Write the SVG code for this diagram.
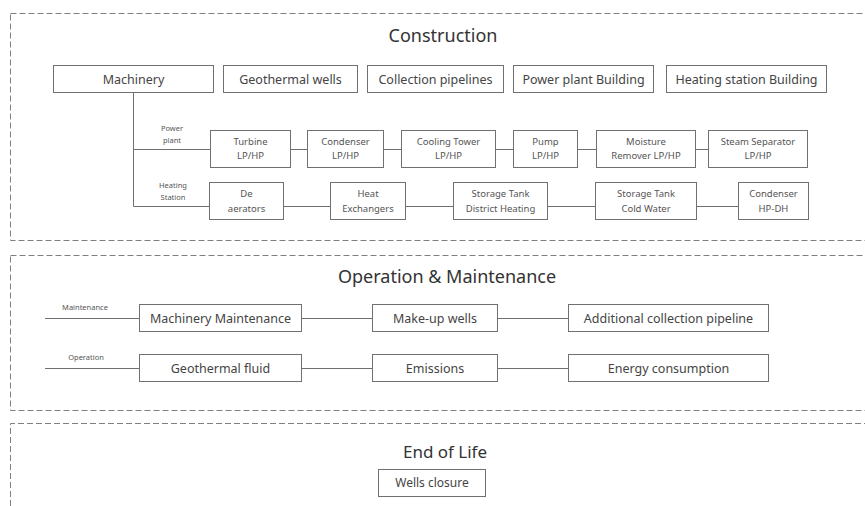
<svg xmlns="http://www.w3.org/2000/svg" width="865" height="506" viewBox="0 0 865 506">
<style>
.sec{fill:none;stroke:#808080;stroke-width:1;stroke-dasharray:6 3}
.box{fill:#fff;stroke:#707070;stroke-width:1}
.ln{fill:none;stroke:#707070;stroke-width:1}
.title{font-family:"Noto Sans","Open Sans",sans-serif;font-size:18px;fill:#333;text-anchor:middle}
.t13{font-family:"Noto Sans","Open Sans",sans-serif;font-size:12.5px;fill:#444;text-anchor:middle}
.t10{font-family:"Noto Sans","Open Sans",sans-serif;font-size:9.5px;fill:#555;text-anchor:middle}
.t7{font-family:"Noto Sans","Open Sans",sans-serif;font-size:7.5px;fill:#555;text-anchor:middle}
</style>
<rect width="865" height="506" fill="#fff"/>
<g id="sections">
<rect class="sec" x="10.5" y="13.5" width="870" height="227"/>
<rect class="sec" x="10.5" y="255.5" width="870" height="155"/>
<path class="sec" d="M10.5 506 V423.5 H865"/>
<text class="title" x="443" y="42">Construction</text>
<text class="title" x="447" y="283">Operation &amp; Maintenance</text>
<text class="title" x="445" y="458" style="font-size:17px">End of Life</text>
</g>
<g id="connectors">
<path class="ln" d="M133.5 93 V206.5 H209 M133.5 149.5 H210"/>
<path class="ln" d="M290 149.5 H307 M383 149.5 H401 M495 149.5 H513 M577 149.5 H596 M695 149.5 H708"/>
<path class="ln" d="M283 206.5 H330 M405 206.5 H453 M547 206.5 H595 M696 206.5 H738"/>
<path class="ln" d="M45 318.5 H139 M301 318.5 H372 M497 318.5 H568"/>
<path class="ln" d="M45 368.5 H139 M301 368.5 H372 M497 368.5 H568"/>
</g>
<g id="labels">
<text class="t7" x="172" y="131">Power</text>
<text class="t7" x="172" y="143">plant</text>
<text class="t7" x="173" y="188">Heating</text>
<text class="t7" x="173" y="200">Station</text>
<text class="t7" x="85" y="310">Maintenance</text>
<text class="t7" x="86" y="360">Operation</text>
</g>
<g id="machinery"><rect class="box" x="53.5" y="65.5" width="160" height="27"/><text class="t13" x="133.5" y="83.5">Machinery</text></g>
<g id="geothermal-wells"><rect class="box" x="223.5" y="65.5" width="134" height="27"/><text class="t13" x="290.5" y="83.5">Geothermal wells</text></g>
<g id="collection-pipelines"><rect class="box" x="367.5" y="65.5" width="136" height="27"/><text class="t13" x="435.5" y="83.5">Collection pipelines</text></g>
<g id="power-plant-building"><rect class="box" x="513.5" y="65.5" width="140" height="27"/><text class="t13" x="583.5" y="83.5">Power plant Building</text></g>
<g id="heating-station-building"><rect class="box" x="666.5" y="65.5" width="160" height="27"/><text class="t13" x="746.5" y="83.5">Heating station Building</text></g>
<g id="turbine"><rect class="box" x="210.5" y="130.5" width="80" height="37"/><text class="t10" x="250.5" y="145">Turbine</text><text class="t10" x="250.5" y="159">LP/HP</text></g>
<g id="condenser"><rect class="box" x="307.5" y="130.5" width="76" height="37"/><text class="t10" x="345.5" y="145">Condenser</text><text class="t10" x="345.5" y="159">LP/HP</text></g>
<g id="cooling-tower"><rect class="box" x="401.5" y="130.5" width="94" height="37"/><text class="t10" x="448.5" y="145">Cooling Tower</text><text class="t10" x="448.5" y="159">LP/HP</text></g>
<g id="pump"><rect class="box" x="513.5" y="130.5" width="64" height="37"/><text class="t10" x="545.5" y="145">Pump</text><text class="t10" x="545.5" y="159">LP/HP</text></g>
<g id="moisture-remover"><rect class="box" x="596.5" y="130.5" width="99" height="37"/><text class="t10" x="646" y="145">Moisture</text><text class="t10" x="646" y="159">Remover LP/HP</text></g>
<g id="steam-separator"><rect class="box" x="708.5" y="130.5" width="99" height="37"/><text class="t10" x="758" y="145">Steam Separator</text><text class="t10" x="758" y="159">LP/HP</text></g>
<g id="de-aerators"><rect class="box" x="209.5" y="182.5" width="74" height="37"/><text class="t10" x="246.5" y="197">De</text><text class="t10" x="246.5" y="212">aerators</text></g>
<g id="heat-exchangers"><rect class="box" x="330.5" y="182.5" width="75" height="37"/><text class="t10" x="368" y="197">Heat</text><text class="t10" x="368" y="212">Exchangers</text></g>
<g id="storage-tank-dh"><rect class="box" x="453.5" y="182.5" width="94" height="37"/><text class="t10" x="500.5" y="197">Storage Tank</text><text class="t10" x="500.5" y="212">District Heating</text></g>
<g id="storage-tank-cw"><rect class="box" x="595.5" y="182.5" width="101" height="37"/><text class="t10" x="646" y="197">Storage Tank</text><text class="t10" x="646" y="212">Cold Water</text></g>
<g id="condenser-hpdh"><rect class="box" x="738.5" y="182.5" width="70" height="37"/><text class="t10" x="773.5" y="197">Condenser</text><text class="t10" x="773.5" y="212">HP-DH</text></g>
<g id="machinery-maintenance"><rect class="box" x="139.5" y="304.5" width="162" height="27"/><text class="t13" x="220.5" y="322.5">Machinery Maintenance</text></g>
<g id="make-up-wells"><rect class="box" x="372.5" y="304.5" width="125" height="27"/><text class="t13" x="435" y="322.5">Make-up wells</text></g>
<g id="additional-pipeline"><rect class="box" x="568.5" y="304.5" width="200" height="27"/><text class="t13" x="668.5" y="322.5">Additional collection pipeline</text></g>
<g id="geothermal-fluid"><rect class="box" x="139.5" y="354.5" width="162" height="27"/><text class="t13" x="220.5" y="372.5">Geothermal fluid</text></g>
<g id="emissions"><rect class="box" x="372.5" y="354.5" width="125" height="27"/><text class="t13" x="435" y="372.5">Emissions</text></g>
<g id="energy-consumption"><rect class="box" x="568.5" y="354.5" width="200" height="27"/><text class="t13" x="668.5" y="372.5">Energy consumption</text></g>
<g id="wells-closure"><rect class="box" x="378.5" y="469.5" width="107" height="27"/><text class="t13" x="432" y="487" style="font-size:12px">Wells closure</text></g>
</svg>
